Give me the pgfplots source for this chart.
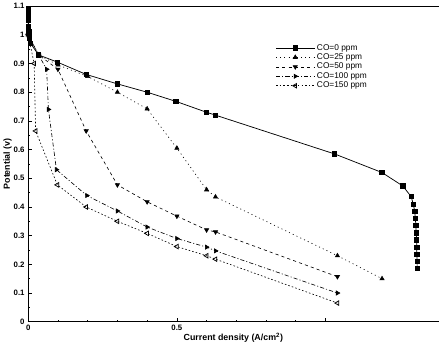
\documentclass[border=0pt]{standalone}
\usepackage{fontspec}
\setmainfont{Liberation Sans}
\usepackage{pgfplots}
\pgfplotsset{compat=1.18}
\begin{document}
\begin{tikzpicture}
\begin{axis}[
  scale only axis,
  width=394pt, height=303pt,
  xmin=0, xmax=1.38, ymin=0, ymax=1.1,
  axis x line*=bottom, axis y line*=left,
  axis line style={line width=0.9pt, -},
  tick align=inside,
  xtick={0,0.5,1}, xticklabels={0,0.5,},
  minor x tick num=4,
  ytick={0,0.1,0.2,0.3,0.4,0.5,0.6,0.7,0.8,0.9,1,1.1},
  yticklabels={0,0.1,0.2,0.3,0.4,0.5,0.6,0.7,0.8,0.9,1,1.1},
  minor y tick num=1,
  major tick length=4pt, minor tick length=2pt,
  tick style={line width=0.6pt, black},
  ticklabel style={font=\fontsize{7.5}{8}\selectfont\bfseries},
  /pgf/number format/assume math mode=true,
  xlabel={Current density (A/cm\textsuperscript{2})},
  ylabel={Potential (v)},
  label style={font=\fontsize{8.5}{9}\selectfont\bfseries},
  xlabel style={yshift=5pt},
  ylabel style={yshift=-5pt},
  legend style={draw=none, fill=none, at={(0.60,0.89)}, anchor=north west,
    font=\fontsize{8}{9}\selectfont, row sep=-2pt, inner sep=1pt},
  legend cell align=left,
  legend image code/.code={\draw[mark repeat=2,mark phase=2] plot coordinates {(0cm,0cm) (0.65cm,0cm) (1.3cm,0cm)};},
  clip=false,
]
\draw[line width=0.9pt] (rel axis cs:0,1) -- (rel axis cs:1,1);
% CO=0 ppm
\addplot[black, line width=0.7pt, mark=square*, mark size=2.1pt] coordinates {
 (0,1.09) (0,1.07) (0,1.05) (0,1.03) (0.002,1.01) (0.004,0.99) (0.008,0.97)
 (0.035,0.93) (0.098,0.905) (0.195,0.862) (0.30,0.829) (0.40,0.80) (0.497,0.768)
 (0.60,0.73) (0.63,0.72) (1.03,0.585) (1.19,0.52) (1.26,0.473)
 (1.288,0.436) (1.295,0.41) (1.30,0.385) (1.302,0.36) (1.304,0.335) (1.305,0.31)
 (1.306,0.285) (1.307,0.26) (1.307,0.235) (1.308,0.21) (1.308,0.185)
};
\addlegendentry{CO=0 ppm}
% CO=25 ppm
\addplot[black, line width=0.6pt, dash pattern=on 1pt off 3pt, mark=triangle*, mark size=2.3pt, mark options={solid}] coordinates {
 (0,1.0) (0.035,0.93) (0.1,0.895) (0.2,0.855) (0.30,0.80) (0.40,0.742) (0.50,0.605)
 (0.60,0.46) (0.63,0.435) (1.04,0.23) (1.19,0.15)
};
\addlegendentry{CO=25 ppm}
% CO=50 ppm
\addplot[black, line width=0.6pt, dash pattern=on 3pt off 3pt, mark=triangle*, mark size=2.3pt, mark options={solid, rotate=180}] coordinates {
 (0,1.0) (0.035,0.93) (0.1,0.88) (0.195,0.665) (0.30,0.477) (0.40,0.418) (0.50,0.368)
 (0.60,0.32) (0.63,0.313) (1.04,0.157)
};
\addlegendentry{CO=50 ppm}
% CO=100 ppm
\addplot[black, line width=0.6pt, dash pattern=on 4pt off 2pt on 1pt off 2pt, mark=triangle*, mark size=2.3pt, mark options={solid, rotate=-90}] coordinates {
 (0,1.0) (0.035,0.93) (0.062,0.88) (0.068,0.74) (0.095,0.53) (0.197,0.44) (0.30,0.386)
 (0.40,0.33) (0.50,0.29) (0.60,0.26) (0.63,0.247) (1.04,0.10)
};
\addlegendentry{CO=100 ppm}
% CO=150 ppm
\addplot[black, line width=0.6pt, dash pattern=on 1.5pt off 2pt, mark=triangle, mark size=2.5pt, mark options={solid, rotate=90, line width=0.7pt}] coordinates {
 (0,1.0) (0.02,0.90) (0.025,0.665) (0.098,0.477) (0.195,0.40) (0.30,0.35) (0.40,0.308)
 (0.50,0.262) (0.60,0.23) (0.63,0.218) (1.04,0.065)
};
\addlegendentry{CO=150 ppm}
\end{axis}
\end{tikzpicture}
\end{document}
